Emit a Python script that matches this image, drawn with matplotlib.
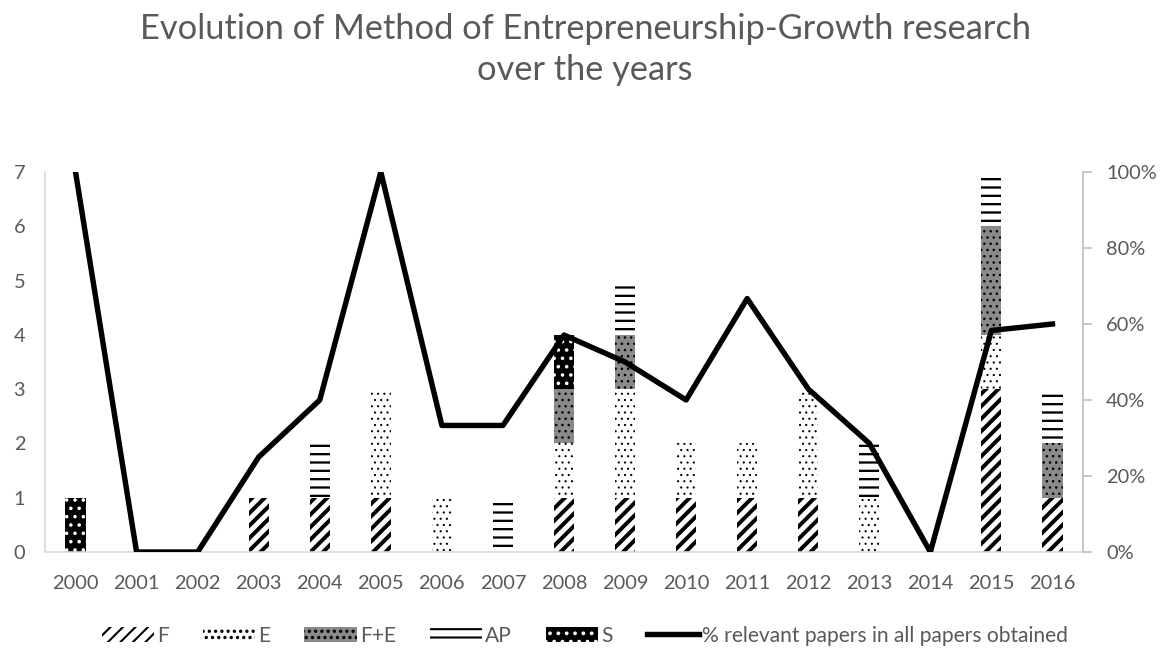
import numpy as np
import matplotlib.pyplot as plt
from matplotlib.patches import Patch
from matplotlib.lines import Line2D
from matplotlib.ticker import PercentFormatter

years = [str(y) for y in range(2000, 2017)]
F    = [0, 0, 0, 1, 1, 1, 0, 0, 1, 1, 1, 1, 1, 0, 0, 3, 1]
E    = [0, 0, 0, 0, 0, 2, 1, 0, 1, 2, 1, 1, 2, 1, 0, 1, 0]
FE   = [0, 0, 0, 0, 0, 0, 0, 0, 1, 1, 0, 0, 0, 0, 0, 2, 1]
AP   = [0, 0, 0, 0, 1, 0, 0, 1, 0, 1, 0, 0, 0, 1, 0, 1, 1]
S    = [1, 0, 0, 0, 0, 0, 0, 0, 1, 0, 0, 0, 0, 0, 0, 0, 0]
pct  = [1.00, 0.0, 0.0, 0.25, 0.40, 1.00, 0.333, 0.333, 0.571, 0.50,
        0.40, 0.667, 0.429, 0.286, 0.0, 0.583, 0.60]

GRAY = '#595959'
plt.rcParams['font.family'] = ['Lato', 'DejaVu Sans']

DPI = 150
fig = plt.figure(figsize=(1170 / DPI, 652 / DPI), dpi=DPI)
ax = fig.add_axes([45 / 1170, 1 - 552 / 652, (1083 - 45) / 1170, (552 - 172) / 652])

x = np.arange(len(years))
w = 0.33
# label, values, face, edge(hatch colour), hatch, hatch lw
styles = [
    ('F',   F,  'white',   'black', '////', 1.9),
    ('E',   E,  'white',   'black', '....', 0.45),
    ('F+E', FE, '#8a8a8a', 'black', '....', 0.6),
    ('AP',  AP, 'white',   'black', '---',  1.1),
    ('S',   S,  'black',   'white', '...',  0.9),
]

handles = []
bottom = np.zeros(len(years))
for lab, vals, fc, ec, h, hlw in styles:
    vals = np.array(vals, dtype=float)
    with plt.rc_context({'hatch.linewidth': hlw}):
        bars = ax.bar(x, vals, w, bottom=bottom, color=fc, edgecolor=ec,
                      hatch=h, linewidth=0, zorder=2)
        for b in bars:
            if hasattr(b, 'set_hatch_linewidth'):
                b.set_hatch_linewidth(hlw)
        p = Patch(facecolor=fc, edgecolor=ec, hatch=h, linewidth=0, label=lab)
        if hasattr(p, 'set_hatch_linewidth'):
            p.set_hatch_linewidth(hlw)
    handles.append(p)
    bottom += vals

FS = 9.6
ax.set_xlim(-0.5, len(years) - 0.5)
ax.set_ylim(0, 7)
ax.set_yticks(range(0, 8))
ax.set_xticks(x)
ax.set_xticklabels(years)
ax.tick_params(axis='both', length=0, labelsize=FS, labelcolor=GRAY)
ax.tick_params(axis='y', pad=9.5)
ax.tick_params(axis='x', pad=11)
for s in ['top', 'right']:
    ax.spines[s].set_visible(False)
ax.spines['left'].set_color('#d9d9d9')
ax.spines['bottom'].set_color('#d9d9d9')

ax2 = ax.twinx()
ax2.plot(x, pct, color='black', linewidth=2.6, zorder=5)
ax2.set_ylim(0, 1)
ax2.set_yticks(np.arange(0, 1.01, 0.2))
ax2.yaxis.set_major_formatter(PercentFormatter(1.0, decimals=0))
ax2.tick_params(axis='y', length=4.5, color='#bfbfbf', labelsize=FS,
                labelcolor=GRAY, pad=6.5)
for s in ['top', 'left', 'bottom']:
    ax2.spines[s].set_visible(False)
ax2.spines['right'].set_color('#bfbfbf')

handles.append(Line2D([0], [0], color='black', linewidth=2.6,
                      label='% relevant papers in all papers obtained'))
fig.legend(handles=handles, loc='center', bbox_to_anchor=(0.5, 1 - 636 / 652),
           ncol=6, frameon=False, fontsize=10.1, labelcolor=GRAY,
           handlelength=2.5, handleheight=0.75, handletextpad=0.15,
           columnspacing=1.6)

fig.text(0.5, 1 - 13 / 652,
         'Evolution of Method of Entrepreneurship-Growth research\nover the years',
         ha='center', va='top', fontsize=16.5, color=GRAY, linespacing=1.35)

fig.savefig('out.png', dpi=DPI)
